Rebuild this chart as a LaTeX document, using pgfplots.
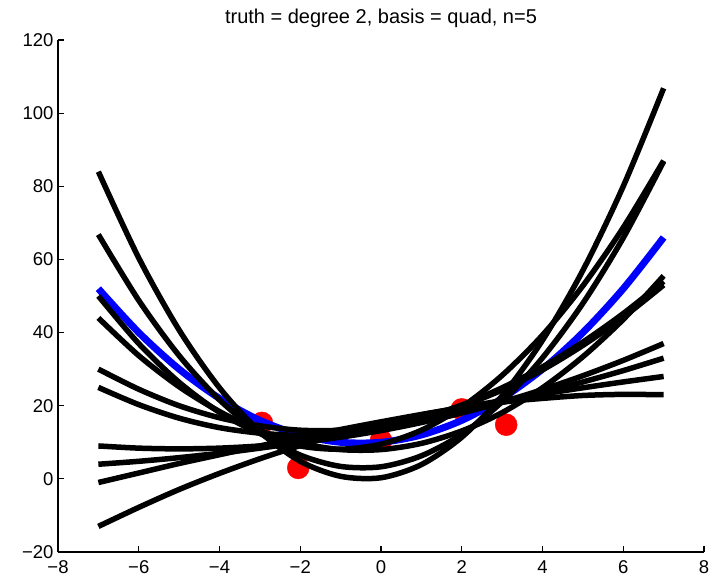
\documentclass[border=0pt]{standalone}
\usepackage{fontspec}
\setmainfont{Liberation Sans}
\usepackage{pgfplots}
\usepackage{pgfplotstable}
\pgfplotsset{compat=1.18}

% Quadratic fits evaluated on the grid x = -7..7, and the true curve
\pgfplotstableread{
x   c1    c2    c3    c4    c5    c6    c7    c8    c9    c10   truth
-7  84.0  66.8  50.0  44.0  30.0  25.0  9.0   4.0   -1.0  -13.0 52
-6  60.4  48.8  37.0  33.7  24.5  20.3  8.4   4.8   1.6   -7.8  40
-5  40.7  33.7  26.4  25.2  20.0  16.6  8.2   5.8   4.2   -2.9  30
-4  24.9  21.6  18.2  18.4  16.7  14.0  8.4   7.0   6.6   1.5   22
-3  12.9  12.6  12.4  13.2  14.5  12.5  9.0   8.4   9.0   5.5   16
-2  4.8   6.5   9.0   9.8   13.3  11.9  10.0  10.0  11.3  9.1   12
-1  0.7   3.4   8.1   8.0   13.3  12.5  11.4  11.8  13.5  12.3  10
0   0.3   3.3   9.5   8.0   14.4  14.0  13.2  13.8  15.6  15.1  10
1   3.9   6.3   13.3  9.7   16.6  16.6  15.4  16.0  17.6  17.5  12
2   11.4  12.2  19.6  13.1  19.9  20.2  18.0  18.3  19.5  19.4  16
3   22.7  21.1  28.3  18.1  24.3  24.9  21.0  20.9  21.4  21.0  22
4   37.9  33.1  39.3  24.9  29.8  30.6  24.4  23.6  23.2  22.0  30
5   57.0  48.0  52.8  33.4  36.5  37.4  28.2  26.5  24.9  22.8  40
6   80.0  65.9  68.7  43.6  44.2  45.2  32.4  29.6  26.5  23.1  52
7   106.8 86.8  87.0  55.5  53.0  54.0  37.0  33.0  28.0  23.0  66
}\fits

% Observed sample (n = 5)
\pgfplotstableread{
x     y
-2.95 15.3
-2.05 3.0
0.0   10.5
2.0   19.0
3.1   14.8
}\samples

\begin{document}
\begin{tikzpicture}
\begin{axis}[
  set layers,
  scale only axis,
  width=646pt, height=512pt,
  xmin=-8, xmax=8, ymin=-20, ymax=120,
  axis x line*=bottom, axis y line*=left,
  axis line style={line width=1.1pt},
  tick align=inside,
  major tick length=6pt,
  every tick/.style={line width=1.1pt, black},
  xtick={-8,-6,...,8},
  xticklabels={−8,−6,−4,−2,0,2,4,6,8},
  ytick={-20,0,...,120},
  yticklabels={−20,0,20,40,60,80,100,120},
  tick label style={font=\fontsize{18.5}{20}\selectfont},
  xticklabel style={yshift=-5pt},
  yticklabel style={xshift=-1pt},
  title={truth = degree 2, basis = quad, n=5},
  title style={font=\fontsize{20}{22}\selectfont, at={(0.5,1)}, anchor=base, yshift=10pt},
  clip=false,
]
  % sample points sit underneath the curves
  \addplot[only marks, mark=*, mark size=11pt, color=red,
           mark layer=axis background, on layer=axis background] table[x=x, y=y] {\samples};
  \addplot[blue, line width=7pt, smooth] table[x=x, y=truth] {\fits};
  \foreach \c in {c1,c2,c3,c4,c5,c6,c7,c8,c9,c10} {
    \addplot[black, line width=5.5pt, smooth] table[x=x, y=\c] {\fits};
  }
\end{axis}
\path ([shift={(-58pt,-31pt)}]current axis.south west) rectangle ([shift={(12pt,40pt)}]current axis.north east);
\end{tikzpicture}
\end{document}
